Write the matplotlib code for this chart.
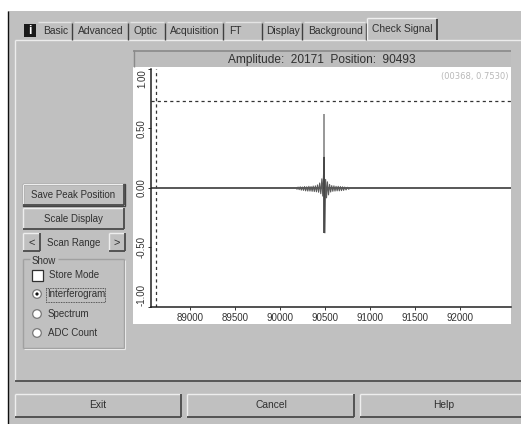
import matplotlib
matplotlib.use("Agg")
import matplotlib.pyplot as plt
from matplotlib.patches import Rectangle, Circle

plt.rcParams['font.family'] = ['Liberation Sans', 'DejaVu Sans']

# ---- data ----
x_ticks = [89000, 89500, 90000, 90500, 91000, 91500, 92000]
y_ticks = [-1.0, -0.5, 0.0, 0.5, 1.0]
y_tick_labels = ['-1.00', '-0.50', '0.00', '0.50', '1.00']
x_limits = [88563, 92567]
baseline_pos = [88563, 90180, 90800, 92567]
baseline_val = [-0.005, -0.005, -0.005, -0.005]
burst_pos = [90190, 90202, 90214, 90226, 90238, 90250, 90262, 90274, 90286, 90298, 90310, 90322, 90334, 90346,
             90358, 90370, 90382, 90394, 90406, 90418, 90430, 90442, 90454, 90466, 90476, 90484,
             90493, 90500, 90508, 90518, 90528, 90540, 90552, 90564, 90576, 90588, 90600, 90612,
             90624, 90636, 90648, 90660, 90672, 90684, 90696, 90708, 90720, 90735, 90750, 90765]
burst_val = [-0.012, 0.006, -0.016, 0.008, -0.020, 0.006, -0.022, 0.010, -0.026, 0.008, -0.028, 0.012, -0.028, 0.010,
             -0.030, 0.014, -0.032, 0.016, -0.034, 0.024, -0.038, 0.040, -0.050, 0.075, -0.070, 0.095,
             0.260, -0.380, 0.070, -0.085, 0.050, -0.060, 0.028, -0.036, 0.018, -0.030, 0.016, -0.028,
             0.012, -0.026, 0.012, -0.026, 0.010, -0.024, 0.008, -0.022, 0.006, -0.018, 0.004, -0.012]
peak_pos = 90493
peak_top = 0.62
peak_dark_top = 0.26
peak_bottom = -0.38
cursor_x = 88619
cursor_y = 0.734
title_text = 'Amplitude:  20171  Position:  90493'
cursor_text = '(00368, 0.7530)'
tabs = [('Basic', 37, 72, 56), ('Advanced', 73, 128, 101), ('Optic', 129, 165, 146), ('Acquisition', 166, 223, 195),
        ('FT', 224, 262, 235), ('Display', 263, 302, 283), ('Background', 303, 366, 336)]

BG = '#c0c0c0'
fig = plt.figure(figsize=(5.21, 4.24), dpi=100, facecolor='white')
W, H = 521, 424

ui = fig.add_axes([0, 0, 1, 1], zorder=0)
ui.set_xlim(0, W)
ui.set_ylim(H, 0)
ui.axis('off')


def line(x0, y0, x1, y1, c, lw=1.0, ls='-'):
    ui.plot([x0, x1], [y0, y1], color=c, lw=lw, ls=ls, solid_capstyle='butt')


def bevel(x0, y0, x1, y1, light='#eeeeee', dark='#4a4a4a', lw=1.0):
    line(x0, y0, x1, y0, light, lw)
    line(x0, y0, x0, y1, light, lw)
    line(x0, y1, x1, y1, dark, lw + 0.3)
    line(x1, y0, x1, y1, dark, lw + 0.3)


def label(x, y, s, size=7.0, ha='center', c='#303030'):
    ui.text(x, y, s, fontsize=size, ha=ha, va='center', color=c)


# window body
ui.add_patch(Rectangle((8, 11), W - 8, H - 11, fc=BG, ec='none'))
line(8, 11, 8, H, '#101010', 1.0)

# page frame
line(15, 40, W, 40, '#ececec')
line(15, 40, 15, 381, '#ececec')
line(15, 381, W, 381, '#505050', 1.3)

# tabs
ui.add_patch(Rectangle((23, 23), 14, 16, fc=BG, ec='none'))
ui.add_patch(Rectangle((24, 24), 12, 13, fc='#1a1a1a', ec='none'))
ui.text(30, 31, 'i', fontsize=8.5, fontweight='bold', color='white', ha='center', va='center')
for name, x0, x1, xc in tabs:
    line(x0 + 1, 22, x1 - 1, 22, '#e4e4e4')
    line(x1, 23, x1, 40, '#404040', 1.0)
    label(xc, 31, name, size=7.4)
ui.add_patch(Rectangle((367, 18), 70, 23, fc=BG, ec='none'))
line(367, 18, 436, 18, '#f0f0f0')
line(367, 18, 367, 40, '#f0f0f0')
line(437, 19, 437, 40, '#303030', 1.2)
label(402, 29, 'Check Signal', size=7.4)

# plot panel
ui.add_patch(Rectangle((133, 67), 378, 257, fc='white', ec='none'))
ui.add_patch(Rectangle((133, 50), 378, 17, fc='#bdbdbd', ec='none'))
line(133, 50.5, 511, 50.5, '#8a8a8a', 1.2)
line(133.5, 50, 133.5, 67, '#8a8a8a', 1.0)
ui.text(322, 59.5, title_text, fontsize=8.55, ha='center', va='center', color='#303030')

# left controls
for y0, y1, s in [(184, 205, 'Save Peak Position'), (208, 229, 'Scale Display')]:
    bevel(23, y0, 124, y1)
    label(73.5, (y0 + y1) / 2, s)
ui.add_patch(Rectangle((23, 184), 102, 22, fc='none', ec='#444444', lw=1.0))
bevel(23, 233, 40, 251)
bevel(109, 233, 125, 251)
label(32, 243, '<', size=8)
label(117, 243, '>', size=8)
label(74, 243, 'Scan Range')

# group box
for a in [(23, 259, 30, 259), (58, 259, 124, 259), (23, 259, 23, 348), (23, 348, 124, 348), (124, 259, 124, 348)]:
    line(*a, '#a0a0a0', 1.0)
line(24, 349, 125, 349, '#e8e8e8', 0.8)
line(125, 260, 125, 349, '#e8e8e8', 0.8)
label(32, 261, 'Show', ha='left')
ui.add_patch(Rectangle((32, 270), 11, 11, fc='white', ec='#303030', lw=0.9))
label(49, 275, 'Store Mode', ha='left')
radio_rows = [(294, 'Interferogram', True), (314, 'Spectrum', False), (333, 'ADC Count', False)]
for y, s, on in radio_rows:
    ui.add_patch(Circle((37, y), 4.3, fc='white', ec='#777777', lw=0.9))
    if on:
        ui.add_patch(Circle((37, y), 1.6, fc='#101010', ec='none'))
    label(47.5, y, s, ha='left')
ui.add_patch(Rectangle((46, 288), 59, 14, fc='none', ec='#333333', lw=0.6, ls=(0, (1, 1))))

# bottom buttons
for x0, x1, xc, s in [(15, 181, 98, 'Exit'), (187, 354, 271, 'Cancel'), (360, W + 3, 444, 'Help')]:
    bevel(x0, 394, x1, 417)
    label(xc, 405, s, size=7.4)

# chart
ax_l, ax_r, ax_t, ax_b = 150.5, 511, 69, 306.5
ax = fig.add_axes([ax_l / W, 1 - ax_b / H, (ax_r - ax_l) / W, (ax_b - ax_t) / H], zorder=2)
ax.patch.set_alpha(0)
ax.set_xlim(*x_limits)
ax.set_ylim(-1, 1)
for s in ('top', 'right'):
    ax.spines[s].set_visible(False)
for s in ('left', 'bottom'):
    ax.spines[s].set_linewidth(1.1)
    ax.spines[s].set_color('#222222')
ax.set_xticks(x_ticks)
ax.set_yticks(y_ticks)
ax.set_yticklabels(y_tick_labels, rotation=90, va='center')
ax.get_yticklabels()[0].set_va('bottom')
ax.get_yticklabels()[-1].set_va('top')
ax.tick_params(axis='x', length=2.5, width=0.7, labelsize=7, pad=2.2, color='#333333', labelcolor='#333333')
ax.tick_params(axis='y', length=2, width=0.7, labelsize=7, pad=0.6, color='#333333', labelcolor='#333333')

ax.axhline(cursor_y, color='#333333', lw=0.9, ls=(0, (2.5, 2.5)))
ax.axvline(cursor_x, color='#333333', lw=0.9, ls=(0, (2.5, 2.5)))
ax.plot(baseline_pos, baseline_val, color='#4a4a4a', lw=1.3)
ax.plot(burst_pos, burst_val, color='#5a5a5a', lw=0.8)
ax.vlines(peak_pos, peak_dark_top, peak_top, color='#8f8f8f', lw=1.3)
ax.vlines(peak_pos, peak_bottom, peak_dark_top, color='#454545', lw=1.3)
ax.text(0.992, 0.968, cursor_text, transform=ax.transAxes, ha='right', va='center', fontsize=6.0,
        color='#b8b8b8', family='DejaVu Sans')

fig.savefig('out.png', dpi=100)
